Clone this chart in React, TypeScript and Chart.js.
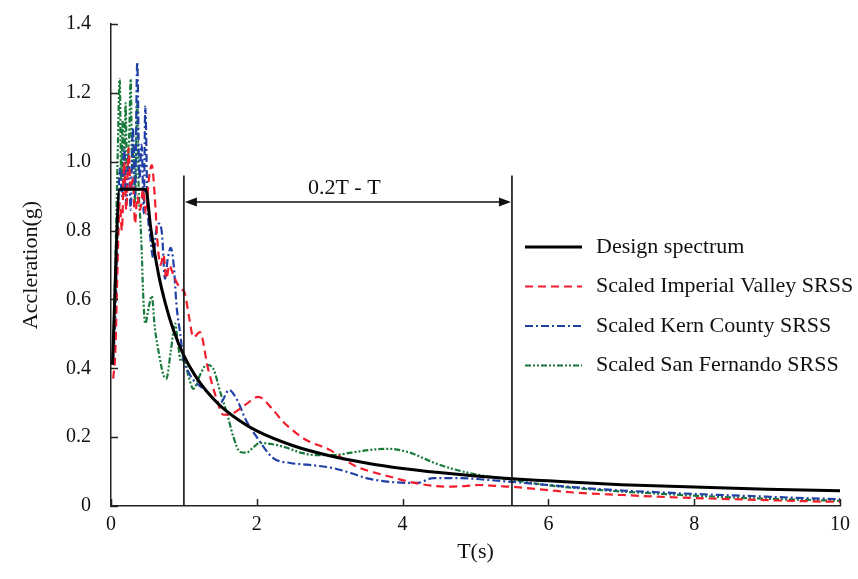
import React, { useEffect, useRef } from 'react';
import { Chart, registerables } from 'chart.js';

Chart.register(...registerables);

// ---------- data ----------
const designT = [0.02, 0.12, 0.475, 0.55, 0.65, 0.75, 0.85, 1.0, 1.15, 1.3, 1.5, 1.75, 2.0, 2.5, 3.0, 3.5, 4.0, 4.5, 5.0, 5.5, 6.0, 7.0, 8.0, 9.0, 10.0];
const designA = [0.41, 0.92, 0.92, 0.8, 0.675, 0.585, 0.515, 0.437, 0.38, 0.336, 0.291, 0.25, 0.218, 0.175, 0.146, 0.125, 0.109, 0.097, 0.087, 0.079, 0.073, 0.062, 0.055, 0.049, 0.044];

const imperialT = [0.03, 0.06, 0.09, 0.12, 0.15, 0.18, 0.21, 0.24, 0.27, 0.3, 0.33, 0.36, 0.4, 0.44, 0.48, 0.52, 0.56, 0.6, 0.64, 0.68, 0.72, 0.76, 0.8, 0.84, 0.9, 0.96, 1.01, 1.07, 1.13, 1.22, 1.33, 1.45, 1.54, 1.68, 1.85, 2.02, 2.22, 2.36, 2.55, 2.69, 3.0, 3.2, 3.37, 3.6, 3.83, 4.1, 4.33, 4.6, 4.85, 5.06, 5.3, 5.5, 6.0, 6.43, 7.0, 7.5, 8.0, 8.5, 9.0, 9.5, 10.0];
const imperialA = [0.37, 0.45, 0.7, 0.88, 0.8, 1.0, 0.86, 1.04, 0.92, 0.95, 0.82, 0.9, 0.86, 0.92, 0.85, 0.95, 0.99, 0.9, 0.76, 0.7, 0.73, 0.66, 0.7, 0.68, 0.65, 0.63, 0.62, 0.55, 0.49, 0.505, 0.4, 0.31, 0.265, 0.27, 0.295, 0.317, 0.28, 0.245, 0.21, 0.19, 0.163, 0.135, 0.114, 0.098, 0.085, 0.07, 0.061, 0.056, 0.058, 0.061, 0.058, 0.056, 0.046, 0.038, 0.032, 0.027, 0.023, 0.02, 0.017, 0.014, 0.012];

const kernT = [0.03, 0.06, 0.09, 0.12, 0.15, 0.18, 0.21, 0.24, 0.27, 0.3, 0.33, 0.36, 0.39, 0.42, 0.45, 0.47, 0.5, 0.54, 0.58, 0.62, 0.66, 0.7, 0.74, 0.78, 0.82, 0.86, 0.9, 0.95, 0.99, 1.06, 1.13, 1.29, 1.5, 1.62, 1.73, 1.85, 2.0, 2.22, 2.46, 2.69, 3.05, 3.3, 3.5, 3.83, 4.2, 4.42, 4.79, 5.1, 5.5, 6.0, 6.5, 7.0, 7.5, 8.0, 8.5, 9.0, 9.5, 10.0];
const kernA = [0.42, 0.55, 0.8, 0.98, 0.9, 1.04, 0.88, 1.02, 0.86, 1.1, 0.9, 1.29, 0.95, 1.05, 0.85, 1.16, 0.88, 0.78, 0.72, 0.8, 0.82, 0.79, 0.66, 0.72, 0.75, 0.7, 0.58, 0.5, 0.43, 0.39, 0.366, 0.337, 0.3, 0.337, 0.308, 0.25, 0.2, 0.14, 0.125, 0.12, 0.11, 0.095, 0.081, 0.07, 0.067, 0.081, 0.081, 0.077, 0.07, 0.061, 0.052, 0.045, 0.04, 0.035, 0.031, 0.027, 0.023, 0.02];

const fernandoT = [0.03, 0.06, 0.09, 0.12, 0.14, 0.16, 0.18, 0.2, 0.22, 0.25, 0.27, 0.29, 0.31, 0.33, 0.36, 0.38, 0.4, 0.42, 0.44, 0.47, 0.52, 0.56, 0.6, 0.66, 0.72, 0.76, 0.82, 0.88, 0.92, 0.96, 1.0, 1.06, 1.13, 1.22, 1.31, 1.4, 1.5, 1.59, 1.68, 1.77, 1.86, 1.95, 2.04, 2.2, 2.4, 2.6, 2.8, 3.05, 3.3, 3.55, 3.8, 4.1, 4.4, 4.65, 5.0, 5.5, 6.0, 6.5, 7.0, 7.5, 8.0, 8.5, 9.0, 9.5, 10.0];
const fernandoA = [0.45, 0.7, 1.0, 1.24, 0.95, 1.12, 0.92, 1.17, 0.97, 1.08, 1.24, 0.98, 1.05, 0.88, 1.18, 0.92, 0.84, 0.75, 0.62, 0.53, 0.58, 0.61, 0.52, 0.44, 0.38, 0.37, 0.45, 0.53, 0.47, 0.42, 0.43, 0.38, 0.34, 0.38, 0.41, 0.4, 0.33, 0.27, 0.2, 0.157, 0.155, 0.17, 0.183, 0.18, 0.17, 0.155, 0.148, 0.148, 0.155, 0.163, 0.166, 0.155, 0.128, 0.11, 0.092, 0.076, 0.06, 0.05, 0.042, 0.036, 0.03, 0.025, 0.021, 0.018, 0.015];

const seriesNames = ['Design spectrum', 'Scaled Imperial Valley SRSS', 'Scaled Kern County SRSS', 'Scaled San Fernando SRSS'];
const seriesColors = ['#000000', '#f21d2c', '#2140a6', '#177a3a'];
const seriesDashes: number[][] = [[], [8, 5], [8, 3, 2, 3], [6, 2, 2, 2, 2, 2]];
const seriesWidths = [3, 2.2, 2.2, 2.2];

const xTicks = [0, 2, 4, 6, 8, 10];
const yTicks = [0, 0.2, 0.4, 0.6, 0.8, 1.0, 1.2, 1.4];

const rangeStart = 1;
const rangeEnd = 5.5;
const rangeTop = 0.96;
const rangeArrowY = 0.883;
const rangeLabel = '0.2T - T';
const rangeLabelX = 3.2;
const rangeLabelY = 0.924;

const FONT = "'Liberation Serif', 'Times New Roman', serif";
const TEXT = '#111111';

export default function App() {
  const ref = useRef<HTMLCanvasElement>(null);

  useEffect(() => {
    document.body.style.margin = '0';
    const canvas = ref.current;
    if (!canvas) return;

    const pts = (t: number[], a: number[]) => t.map((x, i) => ({ x, y: a[i] }));
    const allT = [designT, imperialT, kernT, fernandoT];
    const allA = [designA, imperialA, kernA, fernandoA];

    const decor = {
      id: 'decor',
      afterDraw(chart: any) {
        const ctx = chart.ctx;
        const xs = chart.scales.x;
        const ys = chart.scales.y;
        const area = chart.chartArea;
        ctx.save();
        // inward tick marks
        ctx.strokeStyle = '#222';
        ctx.lineWidth = 1.5;
        ctx.beginPath();
        yTicks.forEach((v) => {
          const y = Math.round(ys.getPixelForValue(v)) + 0.5;
          ctx.moveTo(area.left, y);
          ctx.lineTo(area.left + 7, y);
        });
        xTicks.forEach((v) => {
          const x = Math.round(xs.getPixelForValue(v)) + 0.5;
          ctx.moveTo(x, area.bottom);
          ctx.lineTo(x, area.bottom - 7);
        });
        ctx.stroke();

        // range annotation
        const x1 = xs.getPixelForValue(rangeStart);
        const x2 = xs.getPixelForValue(rangeEnd);
        const yb = ys.getPixelForValue(0);
        const yt = ys.getPixelForValue(rangeTop);
        const ya = ys.getPixelForValue(rangeArrowY);
        ctx.strokeStyle = '#111';
        ctx.lineWidth = 1.6;
        ctx.beginPath();
        ctx.moveTo(x1, yb);
        ctx.lineTo(x1, yt);
        ctx.moveTo(x2, yb);
        ctx.lineTo(x2, yt);
        ctx.moveTo(x1 + 8, ya);
        ctx.lineTo(x2 - 8, ya);
        ctx.stroke();
        ctx.fillStyle = '#111';
        ctx.beginPath();
        ctx.moveTo(x1 + 1, ya);
        ctx.lineTo(x1 + 13, ya - 4.5);
        ctx.lineTo(x1 + 13, ya + 4.5);
        ctx.closePath();
        ctx.fill();
        ctx.beginPath();
        ctx.moveTo(x2 - 1, ya);
        ctx.lineTo(x2 - 13, ya - 4.5);
        ctx.lineTo(x2 - 13, ya + 4.5);
        ctx.closePath();
        ctx.fill();
        ctx.font = `22px ${FONT}`;
        ctx.fillStyle = TEXT;
        ctx.textAlign = 'center';
        ctx.textBaseline = 'middle';
        ctx.fillText(rangeLabel, xs.getPixelForValue(rangeLabelX), ys.getPixelForValue(rangeLabelY));

        // legend
        const lx1 = 525;
        const lx2 = 582;
        const tx = 596;
        const ly0 = 247;
        const step = 39.5;
        ctx.textAlign = 'left';
        seriesNames.forEach((name, i) => {
          const y = ly0 + i * step;
          ctx.strokeStyle = seriesColors[i];
          ctx.lineWidth = seriesWidths[i];
          ctx.setLineDash(seriesDashes[i]);
          ctx.beginPath();
          ctx.moveTo(lx1, y);
          ctx.lineTo(lx2, y);
          ctx.stroke();
          ctx.setLineDash([]);
          ctx.fillStyle = TEXT;
          ctx.fillText(name, tx, y);
        });
        ctx.restore();
      },
    };

    const chart = new Chart(canvas, {
      type: 'line',
      data: {
        datasets: seriesNames.map((name, i) => ({
          label: name,
          data: pts(allT[i], allA[i]),
          borderColor: seriesColors[i],
          backgroundColor: seriesColors[i],
          borderWidth: seriesWidths[i],
          borderDash: seriesDashes[i],
          pointRadius: 0,
          fill: false,
          cubicInterpolationMode: 'monotone' as const,
        })),
      },
      options: {
        animation: false,
        responsive: true,
        maintainAspectRatio: false,
        layout: { padding: { left: 0, right: 18, top: 24, bottom: 0 } },
        plugins: { legend: { display: false }, tooltip: { enabled: false } },
        scales: {
          x: {
            type: 'linear',
            min: 0,
            max: 10,
            afterBuildTicks: (s: any) => {
              s.ticks = xTicks.map((v) => ({ value: v }));
            },
            afterFit: (s: any) => {
              s.height = 73;
            },
            ticks: {
              font: { family: FONT, size: 20 },
              color: TEXT,
              padding: -1,
              maxRotation: 0,
              callback: (v: any) => String(v),
            },
            grid: { display: false },
            border: { display: true, color: '#222', width: 1.5 },
            title: {
              display: true,
              text: 'T(s)',
              font: { family: FONT, size: 22 },
              color: TEXT,
              padding: { top: 0, bottom: 14 },
            },
          },
          y: {
            type: 'linear',
            min: 0,
            max: 1.4,
            afterBuildTicks: (s: any) => {
              s.ticks = yTicks.map((v) => ({ value: v }));
            },
            afterFit: (s: any) => {
              s.width = 111;
            },
            ticks: {
              font: { family: FONT, size: 20 },
              color: TEXT,
              padding: 12,
              callback: (v: any) => (Number(v) === 0 ? '0' : Number(v).toFixed(1)),
            },
            grid: { display: false },
            border: { display: true, color: '#222', width: 1.5 },
            title: {
              display: true,
              text: 'Accleration(g)',
              font: { family: FONT, size: 22 },
              color: TEXT,
              padding: { top: 18, bottom: 0 },
            },
          },
        },
      },
      plugins: [decor],
    });

    return () => chart.destroy();
  }, []);

  return (
    <div style={{ position: 'absolute', left: 0, top: 0, width: 858, height: 579 }}>
      <canvas ref={ref} />
    </div>
  );
}
